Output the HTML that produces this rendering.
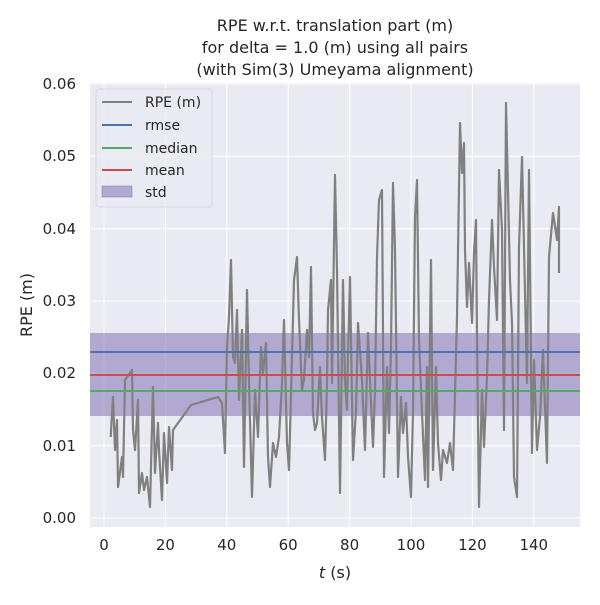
<!DOCTYPE html>
<html><head><meta charset="utf-8"><style>
body{margin:0;background:#fff;}
svg{font-family:"DejaVu Sans","Liberation Sans",sans-serif;}
</style></head><body>
<svg width="600" height="600" xmlns="http://www.w3.org/2000/svg">
<rect x="0" y="0" width="600" height="600" fill="#fff"/>
<rect x="90" y="83" width="490" height="444" fill="#eaeaf2"/>
<g stroke="#fff" stroke-width="1">
<line x1="104" y1="83" x2="104" y2="527"/><line x1="165.4" y1="83" x2="165.4" y2="527"/>
<line x1="226.8" y1="83" x2="226.8" y2="527"/><line x1="288.2" y1="83" x2="288.2" y2="527"/>
<line x1="349.6" y1="83" x2="349.6" y2="527"/><line x1="411" y1="83" x2="411" y2="527"/>
<line x1="472.4" y1="83" x2="472.4" y2="527"/><line x1="533.8" y1="83" x2="533.8" y2="527"/>
<line x1="90" y1="518" x2="580" y2="518"/><line x1="90" y1="445.7" x2="580" y2="445.7"/>
<line x1="90" y1="373.3" x2="580" y2="373.3"/><line x1="90" y1="301" x2="580" y2="301"/>
<line x1="90" y1="228.7" x2="580" y2="228.7"/><line x1="90" y1="156.3" x2="580" y2="156.3"/>
<line x1="90" y1="84" x2="580" y2="84"/>
</g>
<rect x="90" y="333" width="490" height="83" fill="#8172b3" fill-opacity="0.55"/>
<path fill="none" stroke="#808080" stroke-width="2.2" stroke-linejoin="round" d="M110.7,437 L113,397 L115,450 L117,420 L118,487 L122,457 L123,477 L125,380 L132,370 L133,430 L135,450 L138,400 L139,493 L142,473 L144,490 L147,477 L150,507 L153,387 L155,473 L158,423 L159,450 L162,500 L164,433 L167,483 L169,427 L172,470 L173,430 L191,405 L218,397 L222,403 L225,453 L227,347 L229,317 L231,260 L233,357 L235,363 L237,310 L239,400 L242,330 L244,467 L247,290 L249,383 L252,497 L255,390 L258,437 L261,347 L263,373 L266,343 L268,457 L270,487 L273,443 L276,457 L279,437 L282,383 L284,320 L287,443 L289,470 L292,357 L294,280 L297,257 L299,320 L302,390 L304,380 L307,330 L309,357 L311,267 L313,413 L315,430 L317,423 L320,367 L322,417 L325,460 L327,383 L328,310 L331,280 L332,383 L335,175 L337,270 L340,493 L343,280 L345,380 L347,410 L348,357 L350,277 L353,460 L356,410 L358,323 L362,380 L365,450 L368,333 L370,380 L373,447 L375,390 L377,257 L379,200 L382,190 L384,477 L387,367 L389,433 L391,347 L393,183 L395,250 L398,477 L401,397 L403,433 L406,403 L408,457 L411,497 L413,410 L415,217 L417,180 L419,340 L422,413 L425,480 L427,367 L428,487 L431,260 L433,470 L436,367 L438,443 L441,480 L443,450 L447,463 L450,443 L453,470 L457,317 L460,123 L462,173 L464,143 L465,250 L467,307 L469,263 L472,323 L474,253 L476,220 L477,337 L479,507 L482,390 L484,447 L487,377 L489,300 L492,220 L494,267 L497,320 L499,170 L502,230 L504,430 L506,103 L510,280 L512,323 L514,477 L517,497 L519,247 L522,157 L524,247 L527,383 L529,170 L532,453 L534,360 L537,450 L540,417 L543,350 L547,463 L549,257 L553,213 L557,240 L559,207 L559,273"/>
<line x1="90" y1="352" x2="580" y2="352" stroke="#4c72b0" stroke-width="2"/>
<line x1="90" y1="391" x2="580" y2="391" stroke="#55a868" stroke-width="2"/>
<line x1="90" y1="375" x2="580" y2="375" stroke="#c44e52" stroke-width="2"/>
<g font-size="15" fill="#262626" text-anchor="end">
<text x="76" y="523">0.00</text><text x="76" y="451">0.01</text><text x="76" y="378">0.02</text>
<text x="76" y="306">0.03</text><text x="76" y="234">0.04</text><text x="76" y="161">0.05</text><text x="76" y="89">0.06</text>
</g>
<g font-size="15" fill="#262626" text-anchor="middle">
<text x="104" y="550">0</text><text x="165.4" y="550">20</text><text x="226.8" y="550">40</text>
<text x="288.2" y="550">60</text><text x="349.6" y="550">80</text><text x="411" y="550">100</text>
<text x="472.4" y="550">120</text><text x="533.8" y="550">140</text>
<text x="335" y="578" font-size="16"><tspan font-style="italic">t</tspan> (s)</text>
<text x="335" y="31" font-size="16">RPE w.r.t. translation part (m)</text>
<text x="335" y="53" font-size="16">for delta = 1.0 (m) using all pairs</text>
<text x="335" y="75" font-size="16">(with Sim(3) Umeyama alignment)</text>
</g>
<text transform="translate(32,305) rotate(-90)" font-size="16" fill="#262626" text-anchor="middle">RPE (m)</text>
<g>
<rect x="96" y="89" width="116" height="118" rx="3" fill="#eaeaf2" fill-opacity="0.8" stroke="#d8d8e0"/>
<line x1="102" y1="102" x2="132" y2="102" stroke="#808080" stroke-width="2"/>
<line x1="102" y1="125" x2="132" y2="125" stroke="#4c72b0" stroke-width="2"/>
<line x1="102" y1="148" x2="132" y2="148" stroke="#55a868" stroke-width="2"/>
<line x1="102" y1="170" x2="132" y2="170" stroke="#c44e52" stroke-width="2"/>
<rect x="102" y="186" width="30" height="11" fill="#8172b3" fill-opacity="0.55" stroke="#8172b3" stroke-opacity="0.5"/>
<g font-size="14" fill="#262626">
<text x="145" y="107">RPE (m)</text><text x="145" y="130">rmse</text><text x="145" y="153">median</text>
<text x="145" y="175">mean</text><text x="145" y="197">std</text>
</g></g>
</svg>
</body></html>
